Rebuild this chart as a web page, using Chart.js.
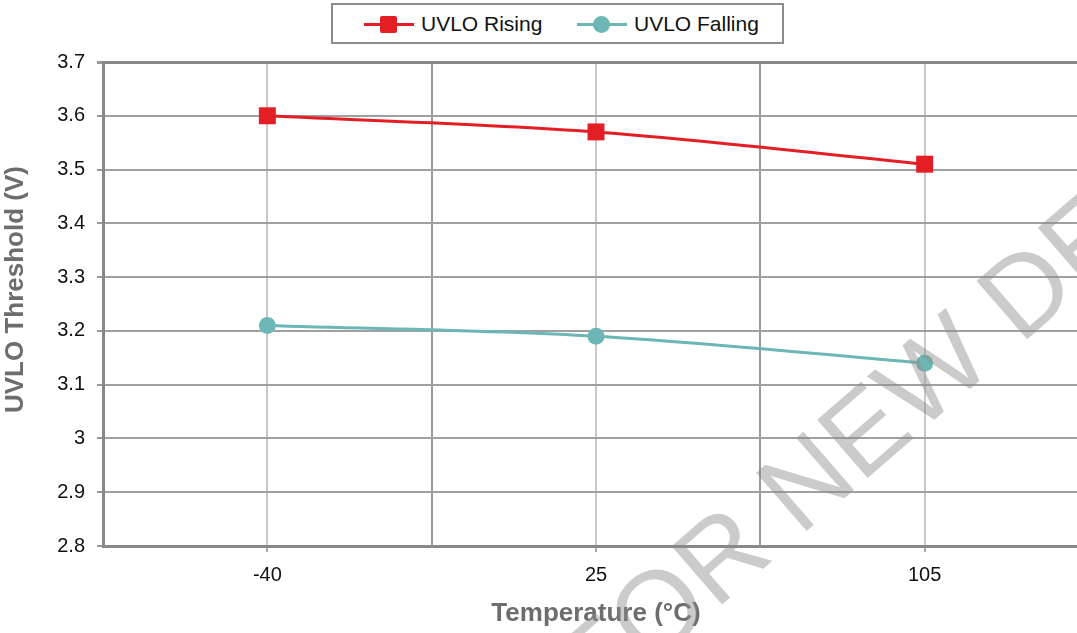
<!DOCTYPE html>
<html>
<head>
<meta charset="utf-8">
<script src="https://cdn.jsdelivr.net/npm/chart.js@4.4.0/dist/chart.umd.min.js"></script>
<style>
    html, body { margin: 0; padding: 0; background: #fff; overflow: hidden; }
    #wrap { position: relative; width: 1101px; height: 633px; }
    #legend {
        position: absolute; left: 331px; top: 3px; width: 449px; height: 37px;
        border: 2px solid #8c8c8c; background: #fff;
        font-family: "Liberation Sans", Arial, sans-serif; font-size: 21px; color: #111;
    }
    #legend .ln { position: absolute; top: 18px; width: 50px; height: 3px; }
    #legend .mk { position: absolute; width: 17px; height: 17px; top: 11px; }
    #legend .tx { position: absolute; top: 7px; line-height: 24px; }
</style>
</head>
<body>
<div id="wrap">
    <canvas id="uvloChart" width="1101" height="633"></canvas>
    <div id="legend">
        <div class="ln" style="left:31px;background:#e31e24"></div>
        <div class="mk" style="left:47px;background:#e31e24;border-radius:2px"></div>
        <div class="tx" style="left:88px">UVLO Rising</div>
        <div class="ln" style="left:244px;background:#6cb7b5"></div>
        <div class="mk" style="left:260px;background:#6cb7b5;border-radius:50%"></div>
        <div class="tx" style="left:301px">UVLO Falling</div>
    </div>
</div>

<script>
// ========== DATA ==========
const categories = ['-40', '25', '105'];          // Temperature (°C)
const uvloRising = [3.60, 3.57, 3.51];            // V
const uvloFalling = [3.21, 3.19, 3.14];           // V
const yMin = 2.8, yMax = 3.7, yStep = 0.1;

const RED = '#e31e24';
const TEAL = '#6cb7b5';
const FONT = '"Liberation Sans", Arial, sans-serif';

function toPoints(values) {
    return values.map((v, i) => ({ x: i, y: v }));
}

// ========== WATERMARK ==========
const watermark = {
    id: 'watermark',
    afterDraw(chart) {
        const ctx = chart.ctx;
        const text = 'NOT RECOMMENDED FOR NEW DESIGNS';
        const prefix = 'NOT RECOMMENDED FOR ';
        ctx.save();
        ctx.font = '112px ' + FONT;
        const offset = ctx.measureText(prefix).width + ctx.measureText('NEW').width / 2;
        ctx.translate(878, 428);
        ctx.rotate(-41 * Math.PI / 180);
        ctx.fillStyle = 'rgba(140,140,140,0.45)';
        ctx.textBaseline = 'middle';
        ctx.textAlign = 'left';
        ctx.fillText(text, -offset, 0);
        ctx.restore();
    }
};

// ========== CHART ==========
new Chart(document.getElementById('uvloChart'), {
    type: 'line',
    data: {
        datasets: [
            {
                label: 'UVLO Rising',
                data: toPoints(uvloRising),
                borderColor: RED,
                backgroundColor: RED,
                borderWidth: 3,
                tension: 0.35,
                pointStyle: 'rect',
                pointRadius: 12,
                pointHoverRadius: 12,
                pointBorderWidth: 0
            },
            {
                label: 'UVLO Falling',
                data: toPoints(uvloFalling),
                borderColor: TEAL,
                backgroundColor: TEAL,
                borderWidth: 3,
                tension: 0.35,
                pointStyle: 'circle',
                pointRadius: 8.5,
                pointHoverRadius: 8.5,
                pointBorderWidth: 0
            }
        ]
    },
    options: {
        responsive: false,
        animation: false,
        devicePixelRatio: 1,
        layout: { padding: { top: 62, left: 0, right: 0, bottom: 0 } },
        plugins: {
            legend: { display: false },
            tooltip: { enabled: false }
        },
        scales: {
            x: {
                type: 'linear',
                min: -0.5,
                max: 2.5,
                afterFit(scale) { scale.height = 87; },
                ticks: {
                    stepSize: 0.5,
                    autoSkip: false,
                    maxRotation: 0,
                    padding: 11,
                    color: '#111',
                    font: { family: FONT, size: 20 },
                    callback: (v) => Number.isInteger(v) ? categories[v] : ''
                },
                grid: {
                    lineWidth: 2,
                    tickLength: 6,
                    color: (c) => Number.isInteger(c.tick.value) ? '#c8c8c8' : '#999',
                    tickColor: (c) => Number.isInteger(c.tick.value) ? '#aaa' : 'rgba(0,0,0,0)'
                },
                border: { color: '#888', width: 3 },
                title: {
                    display: true,
                    text: 'Temperature (°C)',
                    color: '#6d6d6d',
                    font: { family: FONT, size: 26, weight: 'bold' },
                    padding: { top: 0, bottom: 4 }
                }
            },
            y: {
                min: yMin,
                max: yMax,
                afterFit(scale) { scale.width = 103; },
                ticks: {
                    stepSize: yStep,
                    padding: 12,
                    color: '#111',
                    font: { family: FONT, size: 20 },
                    callback: (v) => String(Math.round(v * 10) / 10)
                },
                grid: {
                    lineWidth: (c) => Math.abs(c.tick.value - yMax) < 1e-6 ? 3 : 2,
                    tickLength: 6,
                    color: (c) => Math.abs(c.tick.value - yMax) < 1e-6 ? '#888' : '#a0a0a0',
                    tickColor: '#999'
                },
                border: { color: '#888', width: 3 },
                title: {
                    display: true,
                    text: '    UVLO Threshold (V)',
                    color: '#6d6d6d',
                    font: { family: FONT, size: 26, weight: 'bold' },
                    padding: { top: 0, bottom: 6 }
                }
            }
        }
    },
    plugins: [watermark]
});
</script>
</body>
</html>
